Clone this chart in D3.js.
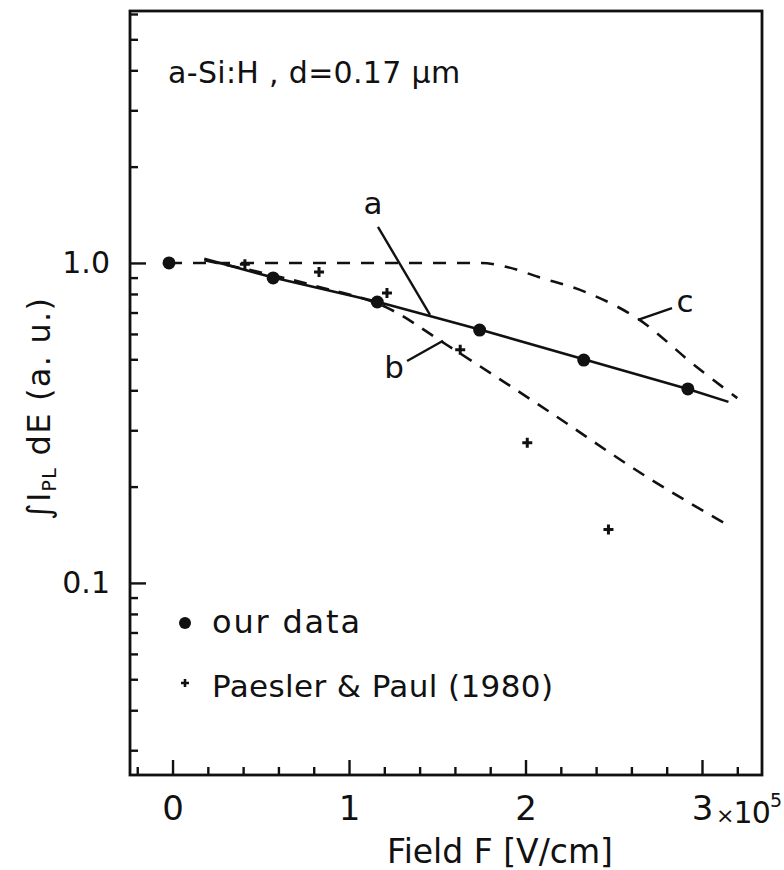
<!DOCTYPE html>
<html>
<head>
<meta charset="utf-8">
<script src="https://cdn.jsdelivr.net/npm/d3@7/dist/d3.min.js"></script>
<style>
  body { margin: 0; background: #fff; }
  svg text { font-family: "DejaVu Sans", sans-serif; fill: #111; }
</style>
</head>
<body>
<svg id="chart" width="784" height="870"></svg>
<script>
// our data (filled circles)
const ourField = [-0.02, 0.57, 1.16, 1.74, 2.33, 2.92];
const ourYield = [1.0, 0.898, 0.755, 0.617, 0.497, 0.404];

// Paesler & Paul (1980), small crosses
const ppField = [0.41, 0.83, 1.215, 1.63, 2.01, 2.47];
const ppYield = [0.99, 0.937, 0.806, 0.535, 0.274, 0.147];

// curve a (solid)
const aField = [0.18, 0.57, 1.16, 1.74, 2.33, 2.92, 3.15];
const aYield = [1.03, 0.9, 0.757, 0.62, 0.5, 0.404, 0.368];

// curve b (dashed)
const bField = [0.18, 0.8, 1.215, 1.555, 2.12, 2.69, 3.16];
const bYield = [1.02, 0.85, 0.725, 0.554, 0.347, 0.214, 0.15];

// curve c (dashed)
const cField = [-0.02, 1.75, 1.9, 2.07, 2.33, 2.63, 2.97, 3.2];
const cYield = [1.0, 1.0, 0.97, 0.905, 0.815, 0.673, 0.473, 0.378];

const xMajor = [0, 1, 2, 3];
const xLabels = ['0', '1', '2', '3'];
const xMinor = [-0.2, 0.2, 0.4, 0.6, 0.8, 1.2, 1.4, 1.6, 1.8, 2.2, 2.4, 2.6, 2.8, 3.2];
const yMajor = [0.1, 1];
const yLabels = ['0.1', '1.0'];
const yMinor = [0.03, 0.04, 0.05, 0.06, 0.07, 0.08, 0.09,
  0.2, 0.3, 0.4, 0.5, 0.6, 0.7, 0.8, 0.9, 2, 3, 4, 5, 6];

main();

function main() {
  var margin = {top: 11, left: 130, right: 22, bottom: 95},
    width = 784 - margin.left - margin.right,
    height = 870 - margin.top - margin.bottom;

  let svg = d3.select('#chart')
      .append('g')
      .attr('transform', 'translate(' + margin.left + ',' + margin.top + ')'),
    x = d3.scaleLinear().domain([-0.241, 3.34]).range([0, width]),
    y = d3.scaleLog().domain([0.0251, 6.13]).range([height, 0]);

  const zip = (xs, ys) => xs.map((v, i) => [v, ys[i]]);

  // ticks, pointing inward
  svg.append('g')
    .attr('transform', 'translate(0,' + height + ')')
    .call(d3.axisBottom(x).tickValues(xMinor).tickSize(-8).tickFormat(''));
  svg.append('g')
    .attr('class', 'xmajor')
    .attr('transform', 'translate(0,' + height + ')')
    .call(d3.axisBottom(x).tickValues(xMajor).tickSize(-15).tickPadding(21)
      .tickFormat((d, i) => xLabels[i]));
  svg.append('g')
    .call(d3.axisLeft(y).tickValues(yMinor).tickSize(-8).tickFormat(''));
  svg.append('g')
    .attr('class', 'ymajor')
    .call(d3.axisLeft(y).tickValues(yMajor).tickSize(-16).tickPadding(20)
      .tickFormat((d, i) => yLabels[i]));

  svg.selectAll('.domain').remove();
  svg.selectAll('.tick line').attr('stroke', '#111').attr('stroke-width', 2.4);
  svg.selectAll('.xmajor text').style('font-size', '34px').attr('fill', '#111');
  svg.selectAll('.ymajor text').style('font-size', '30px').attr('fill', '#111');

  svg.append('rect')
    .attr('width', width).attr('height', height)
    .attr('fill', 'none').attr('stroke', '#111').attr('stroke-width', 2.8);

  // x10^5 after the "3"
  let mult = svg.append('text')
    .attr('x', x(3) + 14).attr('y', height + 48)
    .attr('textLength', 66)
    .style('font-size', '30px');
  mult.append('tspan').text('×').style('font-size', '22px');
  mult.append('tspan').text('10');
  mult.append('tspan').text('5').style('font-size', '19px').attr('dy', -16);

  // curves
  let line = d3.line().x(d => x(d[0])).y(d => y(d[1]));
  svg.append('path').datum(zip(aField, aYield))
    .attr('d', line).attr('fill', 'none')
    .attr('stroke', '#111').attr('stroke-width', 2.6);
  svg.append('path').datum(zip(bField, bYield))
    .attr('d', line.curve(d3.curveMonotoneX)).attr('fill', 'none')
    .attr('stroke', '#111').attr('stroke-width', 2.6).attr('stroke-dasharray', '13,10');
  svg.append('path').datum(zip(cField, cYield))
    .attr('d', line.curve(d3.curveMonotoneX)).attr('fill', 'none')
    .attr('stroke', '#111').attr('stroke-width', 2.6).attr('stroke-dasharray', '13,11');

  // markers
  svg.append('g').selectAll('circle')
    .data(zip(ourField, ourYield))
    .enter().append('circle')
    .attr('cx', d => x(d[0])).attr('cy', d => y(d[1]))
    .attr('r', 6.5).attr('fill', '#111');
  svg.append('g').selectAll('path')
    .data(zip(ppField, ppYield))
    .enter().append('path')
    .attr('transform', d => 'translate(' + x(d[0]) + ',' + y(d[1]) + ')')
    .attr('d', 'M-5,0H5M0,-5V5')
    .attr('stroke', '#111').attr('stroke-width', 3);

  // curve labels with leaders (data coordinates)
  const labels = [
    {t: 'a', at: [1.136, 1.423], from: [1.164, 1.296], to: [1.459, 0.688]},
    {t: 'b', at: [1.255, 0.437], from: [1.329, 0.494], to: [1.533, 0.571]},
    {t: 'c', at: [2.904, 0.703], from: [2.83, 0.723], to: [2.637, 0.664]}
  ];
  labels.forEach(l => {
    svg.append('line')
      .attr('x1', x(l.from[0])).attr('y1', y(l.from[1]))
      .attr('x2', x(l.to[0])).attr('y2', y(l.to[1]))
      .attr('stroke', '#111').attr('stroke-width', 2.4);
    svg.append('text')
      .attr('x', x(l.at[0])).attr('y', y(l.at[1]))
      .attr('text-anchor', 'middle')
      .style('font-size', '31px')
      .text(l.t);
  });

  svg.append('text')
    .attr('x', x(-0.025)).attr('y', y(3.65))
    .attr('textLength', 292)
    .style('font-size', '30px')
    .text('a-Si:H , d=0.17 μm');

  // legend
  let lg = svg.append('g').attr('transform', 'translate(55,612)');
  lg.append('circle').attr('r', 6).attr('fill', '#111');
  lg.append('text').attr('x', 27).attr('y', 10)
    .attr('textLength', 148).style('font-size', '32px').text('our data');
  lg.append('path').attr('transform', 'translate(0,60)')
    .attr('d', 'M-4,0H4M0,-4V4').attr('stroke', '#111').attr('stroke-width', 2.6);
  lg.append('text').attr('x', 27).attr('y', 74)
    .attr('textLength', 341).style('font-size', '31px').text('Paesler & Paul (1980)');

  // axis titles
  d3.select('#chart').append('text')
    .attr('x', 500).attr('y', 863)
    .attr('text-anchor', 'middle')
    .style('font-size', '33px')
    .text('Field F [V/cm]');

  let yt = d3.select('#chart').append('text')
    .attr('transform', 'translate(50,409) rotate(-90)')
    .attr('text-anchor', 'middle')
    .attr('textLength', 222)
    .style('font-size', '32px');
  yt.append('tspan').text('∫I');
  yt.append('tspan').text('PL').style('font-size', '19px').attr('dy', 6);
  yt.append('tspan').text(' dE (a. u.)').attr('dy', -6);
}
</script>
</body>
</html>
